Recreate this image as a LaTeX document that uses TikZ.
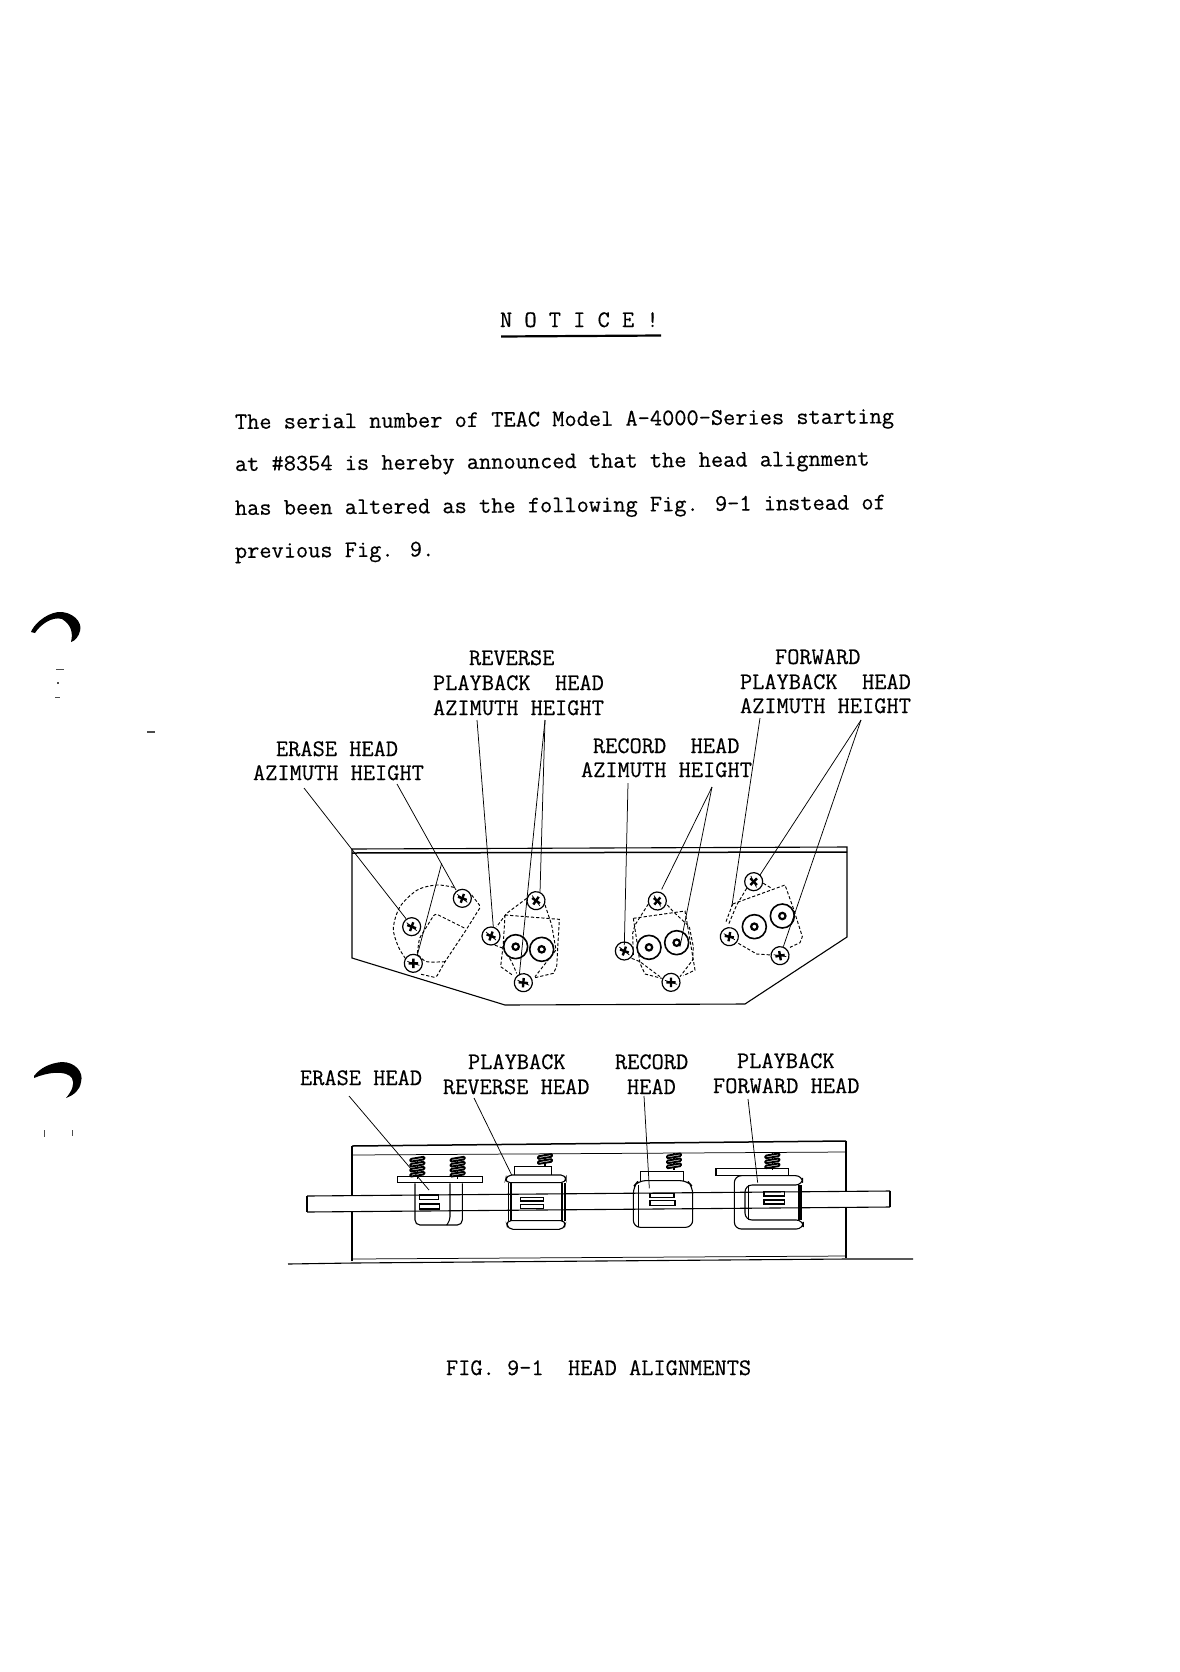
\documentclass[tikz,border=0pt]{standalone}
\usepackage{fontspec}
\newfontfamily\tw[FakeBold=0.4]{Latin Modern Mono}
\newcommand{\twsize}{\fontsize{23.7}{28}\selectfont\tw}
\newcommand{\springz}[3]{%
  \draw[line width=1.2] (#1,#2) -- (#1,#2+#3*15+6);
  \foreach \k in {1,...,#3}{
    \draw[line width=1.9,fill=white,rounded corners=1pt] (#1-21,#2+\k*15-8) -- (#1+21,#2+\k*15-15) -- (#1+21,#2+\k*15-7) -- (#1-21,#2+\k*15) -- cycle;
  }}
\tikzset{
  lab/.style={font=\twsize,anchor=base west,inner sep=0pt,outer sep=0pt},
  body/.style={lab,rotate=0.5},
  leader/.style={line width=0.75pt,black},
  dsh/.style={line width=0.95pt,dash pattern=on 3.2pt off 2pt,black},
  edge/.style={line width=1.1pt,black},
  heavy/.style={line width=1.5pt,black},
  scr/.pic={
    \draw[line width=1.2pt,fill=white] (0,0) circle (9);
    \draw[line width=2.4pt] (-4.4,-1.6) -- (4.4,1.6);
    \draw[line width=2.4pt] (-1.6,4.4) -- (1.6,-4.4);
    \draw[line width=0.7pt] (-5,-4) -- (5,4);
  },
  bigscr/.pic={
    \draw[line width=1.6pt,fill=white] (0,0) circle (12);
    \draw[line width=2.2pt] (0,0) circle (3.2);
  },
  blob/.style={fill=black,draw=none},
  speck/.style={fill=black!70,draw=none}
}
\begin{document}
\begin{tikzpicture}[x=1pt,y=-1pt]
\useasboundingbox (0,0) rectangle (1179,1672);
\fill[white] (0,0) rectangle (1179,1672);

% scan marks
\path[blob] (31,632) .. controls (33,626) and (44,614) .. (58,612) .. controls (72,611) and (83,622) .. (80,631) .. controls (79,636) and (75,641) .. (71,642) .. controls (73,634) and (72,625) .. (62,619) .. controls (52,616) and (40,625) .. (35,633) -- cycle;
\path[blob] (34,1076) .. controls (40,1068) and (50,1063) .. (62,1062) .. controls (75,1062) and (84,1072) .. (81,1082) .. controls (80,1090) and (74,1095) .. (66,1098) .. controls (72,1091) and (75,1084) .. (72,1078) .. controls (66,1070) and (48,1072) .. (34,1078) -- cycle;
\fill[speck] (56,669) rectangle (64,670);
\fill[speck] (57,682) rectangle (59,684);
\fill[speck] (55,697) rectangle (60,698);
\fill[speck] (147,731) rectangle (155,733);
\fill[speck] (44,1130) rectangle (45,1137);
\fill[speck] (72,1130) rectangle (73,1136);

% heading and body text
\node[lab] (notice) at (500,327) {N O T I C E !};
\draw[line width=2.2pt] (501,336.5) -- (661,335.5);
\node[body] (l1) at (235,429) {The serial number of TEAC Model A-4000-Series starting};
\node[body] (l2) at (235,471) {at \#8354 is hereby announced that the head alignment};
\node[body] (l3) at (235,515) {has been altered as the following Fig. 9-1 instead of};
\node[body] (l4) at (235,558) {previous Fig. 9.};

% upper labels
\node[lab] (revt) at (469,665) {REVERSE};
\node[lab] (revb) at (433,690) {PLAYBACK~~HEAD};
\node[lab] (reva) at (433,715) {AZIMUTH HEIGHT};
\node[lab] (fwdt) at (775,664) {FORWARD};
\node[lab] (fwdb) at (740,689) {PLAYBACK~~HEAD};
\node[lab] (fwda) at (740,713) {AZIMUTH HEIGHT};
\node[lab] (erat) at (276,756) {ERASE HEAD};
\node[lab] (eraa) at (253,780) {AZIMUTH HEIGHT};
\node[lab] (rect) at (593,753) {RECORD~~HEAD};
\node[lab] (reca) at (581,777) {AZIMUTH HEIGHT};

% upper panel
\draw[edge] (352,849) -- (847,847) -- (847,937) -- (745,1004) -- (505,1005) -- (352,958) -- cycle;
\draw[heavy] (352,853) -- (847,852);

% erase head (zoom-1 units)
\begin{scope}[shift={(330,830)},scale=1/3]
  \draw[dsh] plot[smooth] coordinates {(372,172) (320,165) (262,180) (210,230) (190,295) (205,350) (228,388)};
  \draw[dsh,rounded corners=2pt] (425,195) -- (452,230) -- (405,305) -- (345,395) -- (318,443) -- (270,432);
  \draw[dsh,rounded corners=3pt] (262,370) -- (268,325) -- (315,250) -- (405,295);
  \draw[dsh] plot[smooth] coordinates {(265,375) (290,395) (345,395)};
  % reverse playback
  \draw[dsh] (590,205) -- (530,250) -- (500,290);
  \draw[dsh] (480,340) -- (520,355) -- (545,395) -- (560,430);
  \draw[dsh] (645,225) -- (665,285) -- (678,360) -- (615,440);
  \draw[dsh] (525,255) -- (688,268) -- (680,410) -- (670,430) -- (615,443);
  \draw[dsh] (525,255) -- (520,340) -- (512,410) -- (550,437);
  \pic at (245,290) {scr};
  \pic at (397,205) {scr};
  \pic[rotate=20] at (250,400) {scr};
  \pic at (483,318) {scr};
  \pic[rotate=-15] at (618,212) {scr};
  \pic[rotate=15] at (580,458) {scr};
  \pic at (557,350) {bigscr};
  \pic at (635,358) {bigscr};
  \coordinate (eaz) at (228,266);
  \coordinate (ehg) at (378,180);
  \coordinate (esa) at (335,100);
  \coordinate (esb) at (262,375);
  \coordinate (raz) at (490,292);
  \coordinate (rh1) at (630,188);
  \coordinate (rh2) at (568,435);
\end{scope}

% record and forward playback (zoom-2 units)
\begin{scope}[shift={(590,830)},scale=1/3]
  \draw[dsh] (130,265) -- (285,243) -- (300,330) -- (315,420) -- (280,437);
  \draw[dsh] (130,265) -- (140,330) -- (150,400) -- (165,432) -- (215,445);
  \draw[dsh] (175,222) -- (135,285) -- (128,310) -- (130,375);
  \draw[dsh] (125,385) -- (150,395) -- (210,440);
  \draw[dsh] (232,225) -- (250,245) -- (298,290) -- (310,350) -- (308,390) -- (270,440);
  \draw[dsh] (428,222) -- (585,165) -- (610,235) -- (637,320) -- (630,338) -- (600,352);
  \draw[dsh] (428,222) -- (408,275);
  \draw[dsh] (445,340) -- (500,372) -- (545,375);
  \draw[dsh] (470,175) -- (440,225) -- (415,285);
  \draw[dsh] (520,160) -- (545,175);
  \pic at (103,363) {scr};
  \pic[rotate=-20] at (202,213) {scr};
  \pic[rotate=20] at (243,457) {scr};
  \pic at (177,352) {bigscr};
  \pic at (260,338) {bigscr};
  \pic[rotate=10] at (418,320) {scr};
  \pic[rotate=-25] at (491,155) {scr};
  \pic[rotate=30] at (570,377) {scr};
  \pic at (493,290) {bigscr};
  \pic at (577,258) {bigscr};
  \fill (426,226) circle (2);
  \fill (612,260) circle (2);
  \coordinate (caz) at (103,345);
  \coordinate (ch1) at (215,178);
  \coordinate (ch2) at (270,350);
  \coordinate (faz) at (426,226);
  \coordinate (fh1) at (510,135);
  \coordinate (fh2) at (580,350);
\end{scope}

% upper leaders
\coordinate (eazt) at (304,788);
\coordinate (ehgt) at (397,784);
\coordinate (razt) at (477,720);
\coordinate (rhgt) at (545,720);
\coordinate (cazt) at (628,783);
\coordinate (chgt) at (712,787);
\coordinate (fazt) at (760,718);
\coordinate (fhgt) at (861,720);
\draw[leader] (eazt) -- (eaz);
\draw[leader] (ehgt) -- (ehg);
\draw[leader] (esa) -- (esb);
\draw[leader] (razt) -- (raz);
\draw[leader] (rhgt) -- (rh1);
\draw[leader] (rhgt) -- (rh2);
\draw[leader] (cazt) -- (caz);
\draw[leader] (chgt) -- (ch1);
\draw[leader] (chgt) -- (ch2);
\draw[leader] (fazt) -- (faz);
\draw[leader] (fhgt) -- (fh1);
\draw[leader] (fhgt) -- (fh2);

% lower labels
\node[lab] (l2era) at (300,1085) {ERASE HEAD};
\node[lab] (l2pb1) at (468,1069) {PLAYBACK};
\node[lab] (l2rev) at (443,1094) {REVERSE HEAD};
\node[lab] (l2rc1) at (615,1069) {RECORD};
\node[lab] (l2rc2) at (627,1094) {HEAD};
\node[lab] (l2pb2) at (737,1068) {PLAYBACK};
\node[lab] (l2fwd) at (713,1093) {FORWARD HEAD};

% lower frame
\draw[edge] (352,1261) -- (352,1146);
\draw[heavy] (352,1146) -- (846,1141);
\draw[leader] (352,1155) -- (846,1152);
\draw[edge] (846,1141) -- (846,1258);
\draw[leader] (353,1259) -- (846,1256);
\draw[edge] (288,1264) -- (353,1263) -- (846,1259) -- (913,1259);

% tape, white over the frame
\path[fill=white] (307,1196) -- (890,1191) -- (890,1207) -- (307,1212) -- cycle;

% heads
\begin{scope}[shift={(280,1130)},scale=1/3]
  \springz{412}{80}{4}
  \springz{533}{80}{4}
  \draw[edge] (352,140) rectangle (607,158);
  \draw[edge,rounded corners=5pt] (405,160) -- (405,285) -- (547,285) -- (547,160);
  \draw[edge,rounded corners=4pt] (510,160) -- (510,272) -- (500,285);
  \draw[edge] (418,195) rectangle (475,208);
  \draw[edge] (418,222) rectangle (478,237);
  % reverse playback head
  \springz{795}{72}{2}
  \draw[edge] (703,135) -- (703,110) -- (815,110) -- (815,135);
  \draw[edge,rounded corners=5pt] (675,158) -- (680,135) -- (858,135) -- (858,158) -- cycle;
  \draw[edge,rounded corners=5pt] (678,272) -- (684,298) -- (852,298) -- (858,272) -- cycle;
  \draw[heavy] (686,160) -- (686,272);
  \draw[edge] (693,160) -- (693,272);
  \draw[heavy] (846,160) -- (846,272);
  \draw[edge] (855,160) -- (855,272);
  \draw[edge] (722,202) rectangle (790,213);
  \draw[edge] (722,224) rectangle (790,236);
  \coordinate (hera) at (447,180);
  \coordinate (hrev) at (695,135);
\end{scope}
\begin{scope}[shift={(600,1130)},scale=1/3]
  % record head
  \springz{222}{70}{3}
  \draw[edge] (122,152) -- (122,125) -- (250,125) -- (250,152);
  \draw[edge,rounded corners=7pt] (100,170) -- (115,152) -- (262,152) -- (278,170) -- (278,292) -- (100,292) -- cycle;
  \draw[edge] (115,165) -- (115,290);
  \draw[edge] (150,190) rectangle (222,203);
  \draw[edge] (150,212) rectangle (225,226);
  % forward playback head
  \springz{517}{70}{3}
  \draw[edge] (348,115) rectangle (565,137);
  \draw[edge,rounded corners=7pt] (403,137) -- (608,137) -- (608,165) -- (435,165) -- (435,270) -- (610,270) -- (610,297) -- (403,297) -- cycle;
  \draw[edge] (445,165) -- (445,270);
  \draw[heavy] (597,165) -- (597,270);
  \draw[edge] (603,165) -- (603,270);
  \draw[edge] (492,185) rectangle (553,198);
  \draw[edge] (492,210) rectangle (553,222);
  \coordinate (hrec) at (148,175);
  \coordinate (hfwd) at (473,158);
\end{scope}

% tape edges over the heads
\draw[edge] (307,1212) -- (890,1207);
\draw[edge] (307,1196) -- (890,1191);
\draw[edge] (307,1196) -- (307,1212);
\draw[edge] (890,1191) -- (890,1207);

% lower leaders
\coordinate (l2erae) at (349,1096);
\coordinate (l2reve) at (474,1098);
\coordinate (l2rece) at (644,1096);
\coordinate (l2fwde) at (748,1099);
\draw[leader] (l2erae) -- (hera);
\draw[leader] (l2reve) -- (hrev);
\draw[leader] (l2rece) -- (hrec);
\draw[leader] (l2fwde) -- (hfwd);

% caption
\node[lab] (cap) at (446,1375) {FIG. 9-1~~HEAD ALIGNMENTS};
\end{tikzpicture}
\end{document}
